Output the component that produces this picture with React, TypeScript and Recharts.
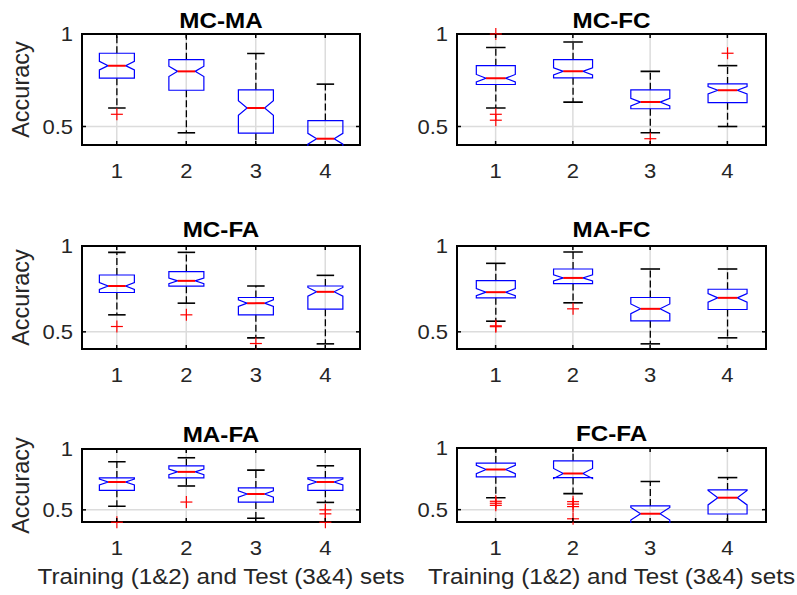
import React from 'react';
import { ComposedChart, Bar, XAxis, YAxis, CartesianGrid, ReferenceArea } from 'recharts';

const categories = ['1', '2', '3', '4'];
const titles = ['MC-MA', 'MC-FC', 'MC-FA', 'MA-FC', 'MA-FA', 'FC-FA'];

// per panel, per training/test set
const lowerQuartile = [
  [0.761, 0.696, 0.464, 0.36],
  [0.727, 0.763, 0.596, 0.629],
  [0.729, 0.766, 0.599, 0.632],
  [0.698, 0.781, 0.564, 0.63],
  [0.66, 0.762, 0.564, 0.66],
  [0.766, 0.76, 0.36, 0.465],
];
const medians = [
  [0.829, 0.798, 0.6, 0.434],
  [0.761, 0.798, 0.632, 0.696],
  [0.767, 0.797, 0.667, 0.733],
  [0.731, 0.814, 0.634, 0.698],
  [0.729, 0.812, 0.63, 0.729],
  [0.826, 0.793, 0.467, 0.597],
];
const upperQuartile = [
  [0.896, 0.861, 0.698, 0.532],
  [0.829, 0.861, 0.698, 0.73],
  [0.831, 0.851, 0.7, 0.767],
  [0.798, 0.866, 0.7, 0.748],
  [0.762, 0.862, 0.68, 0.762],
  [0.878, 0.896, 0.53, 0.66],
];
const whiskerLow = [
  [0.6, 0.466, 0.3, 0.2],
  [0.6, 0.632, 0.466, 0.5],
  [0.599, 0.667, 0.465, 0.43],
  [0.562, 0.669, 0.43, 0.465],
  [0.53, 0.696, 0.431, 0.561],
  [0.597, 0.63, 0.2, 0.38],
];
const whiskerHigh = [
  [1.0, 1.0, 0.895, 0.729],
  [0.927, 0.957, 0.798, 0.829],
  [0.963, 0.963, 0.767, 0.829],
  [0.899, 0.965, 0.866, 0.866],
  [0.895, 0.928, 0.826, 0.862],
  [1.0, 1.0, 0.728, 0.76],
];
const outliers = [
  [[0.566], [], [], []],
  [[1.0, 0.566, 0.534], [], [0.434], [0.896]],
  [[0.531], [0.599], [0.432], []],
  [[0.535, 0.53], [0.634], [], []],
  [[0.398], [0.564], [], [0.5, 0.467, 0.398]],
  [[0.568, 0.552, 0.535], [0.565, 0.545, 0.525, 0.426], [], []],
];
// notch half-height as a fraction of the IQR (1.57 / sqrt(n))
const notchFactor = [0.17, 0.2, 0.19, 0.21, 0.23, 0.3];

const Y_DOMAIN = [0.4, 1];
const Y_TICKS = [0.5, 1];

const FONT = '"Liberation Sans", Arial, Helvetica, sans-serif';
const TXT = '#262626';
const STRETCH = 1.1; // reference text is a bit wide

// plot rectangles (page coords)
const rects = [
  { l: 82, t: 34, w: 278, h: 111 },
  { l: 457, t: 34, w: 309, h: 111 },
  { l: 82, t: 246, w: 278, h: 103 },
  { l: 457, t: 246, w: 309, h: 103 },
  { l: 82, t: 449, w: 278, h: 73 },
  { l: 457, t: 448, w: 309, h: 74 },
];
const titleBaselines = [27.5, 27.5, 237, 237, 441.5, 440.5];

const PAD_L = 60;
const PAD_T = 10;

function WideText({ x, y, anchor, size, bold, fill, children, dy }: any) {
  return (
    <text
      transform={`translate(${x}, ${y}) scale(${STRETCH}, 1)`}
      dy={dy}
      textAnchor={anchor}
      fontSize={size}
      fontWeight={bold ? 'bold' : 'normal'}
      fontFamily={FONT}
      fill={fill}
    >
      {children}
    </text>
  );
}

function makeBoxShape(panel: number) {
  return (props: any) => {
    const { x, y, width, height, payload, index } = props;
    const d = payload;
    const ppu = height / (d.q3 - d.med);
    const Y = (v: number) => y + (d.q3 - v) * ppu;
    const top = Y(Y_DOMAIN[1]);
    const bottom = Y(Y_DOMAIN[0]);
    const L = x;
    const R = x + width;
    const cx = x + width / 2;
    const inset = width * 0.25;
    const n = notchFactor[panel] * (d.q3 - d.q1);
    const cap = width / 4;
    const pts = [
      [L, Y(d.q3)], [R, Y(d.q3)], [R, Y(d.med + n)], [R - inset, Y(d.med)], [R, Y(d.med - n)],
      [R, Y(d.q1)], [L, Y(d.q1)], [L, Y(d.med - n)], [L + inset, Y(d.med)], [L, Y(d.med + n)],
    ].map((p) => p.join(',')).join(' ');
    const id = `clip-${panel}-${index}`;
    return (
      <g>
        <defs>
          <clipPath id={id}>
            <rect x={x - 200} y={top - 1} width={width + 400} height={bottom - top + 2} />
          </clipPath>
        </defs>
        <g clipPath={`url(#${id})`}>
          <line x1={cx} x2={cx} y1={Y(d.q3)} y2={Y(d.hi)} stroke="#000" strokeWidth={1.3} strokeDasharray="7 3" />
          <line x1={cx} x2={cx} y1={Y(d.q1)} y2={Y(d.lo)} stroke="#000" strokeWidth={1.3} strokeDasharray="7 3" />
          <line x1={cx - cap} x2={cx + cap} y1={Y(d.hi)} y2={Y(d.hi)} stroke="#000" strokeWidth={1.6} />
          <line x1={cx - cap} x2={cx + cap} y1={Y(d.lo)} y2={Y(d.lo)} stroke="#000" strokeWidth={1.6} />
          <polygon points={pts} fill="none" stroke="#0000ff" strokeWidth={1.2} />
          <line x1={L + inset} x2={R - inset} y1={Y(d.med)} y2={Y(d.med)} stroke="#ff0000" strokeWidth={2} />
        </g>
        {d.out.map((v: number, k: number) => (
          <g key={k} stroke="#ff0000" strokeWidth={1.2}>
            <line x1={cx - 6} x2={cx + 6} y1={Y(v)} y2={Y(v)} />
            <line x1={cx} x2={cx} y1={Y(v) - 6} y2={Y(v) + 6} />
          </g>
        ))}
      </g>
    );
  };
}

function Panel({ p }: { p: number }) {
  const r = rects[p];
  const W = r.w + 70;
  const H = r.h + 60;
  const data = categories.map((c, i) => ({
    cat: c,
    q1: lowerQuartile[p][i],
    med: medians[p][i],
    q3: upperQuartile[p][i],
    lo: whiskerLow[p][i],
    hi: whiskerHigh[p][i],
    out: outliers[p][i],
  }));
  const plotL = PAD_L;
  const plotR = PAD_L + r.w;
  const plotT = PAD_T;
  const plotB = PAD_T + r.h;

  const yTick = (props: any) => {
    const cy = props.payload?.coordinate ?? props.y;
    return (
      <g>
        <WideText x={plotL - 9} y={cy} dy="0.35em" anchor="end" size={20} fill={TXT}>
          {props.payload.value}
        </WideText>
        <line x1={plotL} x2={plotL + 4} y1={cy} y2={cy} stroke="#000" strokeWidth={1.5} />
        <line x1={plotR} x2={plotR - 4} y1={cy} y2={cy} stroke="#000" strokeWidth={1.5} />
      </g>
    );
  };
  const xTick = (props: any) => {
    const cx = props.payload?.coordinate ?? props.x;
    return (
      <g>
        <WideText x={cx} y={plotB + 33} anchor="middle" size={20} fill={TXT}>
          {props.payload.value}
        </WideText>
        <line x1={cx} x2={cx} y1={plotB} y2={plotB - 4} stroke="#000" strokeWidth={1.5} />
        <line x1={cx} x2={cx} y1={plotT} y2={plotT + 4} stroke="#000" strokeWidth={1.5} />
      </g>
    );
  };

  return (
    <div style={{ position: 'absolute', left: r.l - PAD_L, top: r.t - PAD_T }}>
      <ComposedChart
        width={W}
        height={H}
        data={data}
        margin={{ top: PAD_T, right: 10, left: 10, bottom: 10 }}
        barCategoryGap="25%"
      >
        <CartesianGrid stroke="#dcdcdc" strokeWidth={1.5} />
        <XAxis dataKey="cat" height={40} axisLine={false} tickLine={false} tick={xTick} interval={0} />
        <YAxis
          type="number"
          domain={Y_DOMAIN}
          ticks={Y_TICKS}
          width={50}
          axisLine={false}
          tickLine={false}
          tick={yTick}
          interval={0}
        />
        <Bar
          dataKey={(d: any) => [d.med, d.q3]}
          shape={makeBoxShape(p)}
          isAnimationActive={false}
        />
        <ReferenceArea y1={Y_DOMAIN[0]} y2={Y_DOMAIN[1]} fill="none" stroke="#000" strokeWidth={2} />
      </ComposedChart>
    </div>
  );
}

export default function App() {
  return (
    <div style={{ position: 'absolute', left: 0, top: 0, width: 797, height: 595, background: '#fff' }}>
      {titles.map((_, p) => (
        <Panel key={p} p={p} />
      ))}
      <svg width={797} height={595} style={{ position: 'absolute', left: 0, top: 0, pointerEvents: 'none' }}>
        {titles.map((t, p) => (
          <WideText
            key={t}
            x={rects[p].l + rects[p].w / 2}
            y={titleBaselines[p]}
            anchor="middle"
            size={22}
            bold
            fill="#000"
          >
            {t}
          </WideText>
        ))}
        {[0, 2, 4].map((p) => (
          <text
            key={p}
            transform={`translate(29, ${rects[p].t + rects[p].h / 2}) rotate(-90)`}
            textAnchor="middle"
            fontSize={23.5}
            fontFamily={FONT}
            fill={TXT}
          >
            Accuracy
          </text>
        ))}
        {[4, 5].map((p) => (
          <WideText key={p} x={rects[p].l + rects[p].w / 2} y={584} anchor="middle" size={22} fill={TXT}>
            Training (1&amp;2) and Test (3&amp;4) sets
          </WideText>
        ))}
      </svg>
    </div>
  );
}
